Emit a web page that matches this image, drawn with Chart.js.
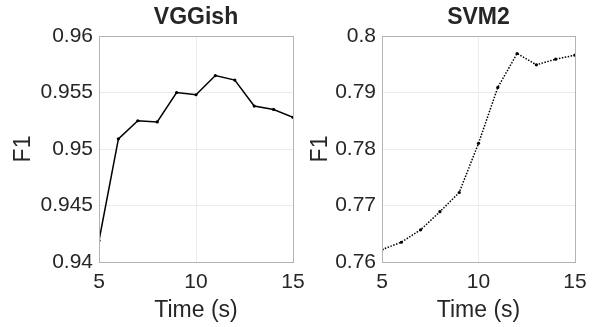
<!DOCTYPE html>
<html>
<head>
<meta charset="utf-8">
<script src="https://cdn.jsdelivr.net/npm/chart.js@4/dist/chart.umd.min.js"></script>
<style>
  html, body { margin: 0; padding: 0; background: #fff; }
  #wrap { position: relative; width: 597px; height: 327px; }
  canvas { position: absolute; left: 0; top: 0; }
</style>
</head>
<body>
<div id="wrap">
  <canvas id="left" width="597" height="327"></canvas>
  <canvas id="right" width="597" height="327"></canvas>
</div>
<script>
// time window in seconds
const times = [5, 6, 7, 8, 9, 10, 11, 12, 13, 14, 15];
const vggishF1 = [0.9419, 0.9509, 0.9525, 0.9524, 0.9550, 0.9548, 0.9565, 0.9561, 0.9538, 0.9535, 0.9528];
const svm2F1 = [0.7622, 0.7635, 0.7657, 0.7689, 0.7723, 0.7810, 0.7909, 0.7969, 0.7949, 0.7959, 0.7966];

const xTicks = [5, 10, 15];
const vggishTicks = [0.94, 0.945, 0.95, 0.955, 0.96];
const svm2Ticks = [0.76, 0.77, 0.78, 0.79, 0.8];

const textColor = '#262626';
const boxColor = '#b4b4b4';
const gridColor = '#ebebeb';
const fontFamily = '"Liberation Sans", Arial, Helvetica, sans-serif';

Chart.defaults.animation = false;
Chart.defaults.color = textColor;
Chart.defaults.font.family = fontFamily;

// draws the top and right sides of the axes box
const boxPlugin = {
  id: 'box',
  afterDraw(chart) {
    const a = chart.chartArea;
    const ctx = chart.ctx;
    ctx.save();
    ctx.strokeStyle = boxColor;
    ctx.lineWidth = 1;
    ctx.strokeRect(Math.round(a.left) + 0.5, Math.round(a.top) + 0.5,
      Math.round(a.right - a.left), Math.round(a.bottom - a.top));
    ctx.restore();
  }
};

function makeChart(id, title, values, yTicks, dash, pad, yTitlePad) {
  const yMin = yTicks[0], yMax = yTicks[yTicks.length - 1];
  return new Chart(document.getElementById(id), {
    type: 'line',
    data: {
      labels: times,
      datasets: [{
        data: times.map((t, i) => ({ x: t, y: values[i] })),
        borderColor: '#000',
        backgroundColor: '#000',
        borderWidth: 1.5,
        borderDash: dash,
        pointRadius: 1.6,
        pointBorderWidth: 0,
        tension: 0
      }]
    },
    options: {
      responsive: false,
      layout: { padding: pad },
      plugins: {
        legend: { display: false },
        tooltip: { enabled: false },
        title: {
          display: true,
          text: title,
          fullSize: false,
          color: textColor,
          font: { size: 23, weight: 'bold' },
          padding: { top: 4, bottom: 4.4 }
        }
      },
      scales: {
        x: {
          type: 'linear',
          min: 5,
          max: 15,
          afterBuildTicks(s) { s.ticks = xTicks.map(v => ({ value: v })); },
          afterFit(s) { s.height = 65; s.paddingLeft = 0; s.paddingRight = 0; },
          ticks: { font: { size: 21 }, padding: 8, maxRotation: 0, color: textColor },
          grid: { color: gridColor, drawTicks: false },
          border: { color: boxColor },
          title: { display: true, text: 'Time (s)', font: { size: 23 }, padding: { top: 0, bottom: 3 }, color: textColor }
        },
        y: {
          min: yMin,
          max: yMax,
          afterBuildTicks(s) { s.ticks = yTicks.map(v => ({ value: v })); },
          afterFit(s) { s.width = 99; s.paddingTop = 0; s.paddingBottom = 0; },
          ticks: { font: { size: 21 }, padding: 6, color: textColor, callback: v => String(v) },
          grid: { color: gridColor, drawTicks: false },
          border: { color: boxColor },
          title: { display: true, text: 'F1', font: { size: 23 }, padding: { top: yTitlePad, bottom: 0 }, color: textColor }
        }
      }
    },
    plugins: [boxPlugin]
  });
}

makeChart('left', 'VGGish', vggishF1, vggishTicks, [], { left: 0, right: 304, top: 0, bottom: 0 }, 10);
makeChart('right', 'SVM2', svm2F1, svm2Ticks, [1.5, 1.5], { left: 283, right: 22, top: 0, bottom: 0 }, 24);
</script>
</body>
</html>
